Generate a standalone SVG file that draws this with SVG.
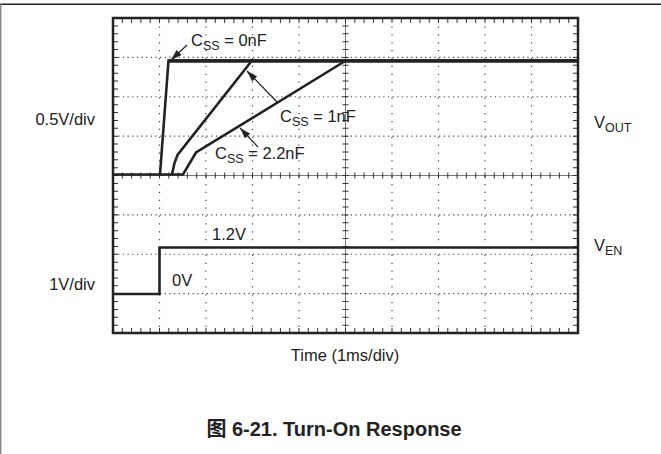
<svg xmlns="http://www.w3.org/2000/svg" width="661" height="454" viewBox="0 0 661 454">
<style>
text{font-family:"Liberation Sans",Arial,"Noto Sans CJK SC",sans-serif;fill:#222;font-size:16.5px}
.sub{font-size:12.5px}
.cap{font-weight:bold;font-size:20px}
.hdot{stroke:#444;stroke-width:1.2;stroke-dasharray:1.2 3.45;fill:none}
.vdot{stroke:#444;stroke-width:1.2;stroke-dasharray:1.2 6.675;fill:none}
.htick{stroke:#333;stroke-dasharray:1 8.3;stroke-dashoffset:0.5;fill:none}
.vtick{stroke:#333;stroke-dasharray:1 6.875;stroke-dashoffset:0.5;fill:none}
.trace{stroke:#222;stroke-width:2.6;fill:none;stroke-linejoin:miter}
.arrow{stroke:#222;stroke-width:1.2;fill:none}
</style>
<defs>
<marker id="ah" markerUnits="userSpaceOnUse" markerWidth="11" markerHeight="7" refX="11" refY="3.5" orient="auto">
<path d="M0,0 L11,3.5 L0,7 z" fill="#222"/>
</marker>
</defs>
<rect width="661" height="454" fill="#fff"/>
<g id="page">
<line x1="0" y1="4.3" x2="661" y2="4.3" stroke="#222" stroke-width="1.5"/>
<line x1="0.7" y1="4" x2="0.7" y2="454" stroke="#888" stroke-width="1.5"/>
</g>
<g id="grid">
<path class="hdot" d="M113.6,57.4H578M113.6,96.75H578M113.6,136.1H578M113.6,214.9H578M113.6,254.25H578M113.6,293.6H578"/>
<path class="vdot" d="M159.5,18.6V333M206,18.6V333M252.5,18.6V333M299,18.6V333M392,18.6V333M438.5,18.6V333M485,18.6V333M531.5,18.6V333"/>
<path d="M113,175.5H578M345.5,18V333" stroke="#555" stroke-width="0.8" fill="none"/>
<path class="htick" stroke-width="6" d="M113,175.5H578"/>
<path class="vtick" stroke-width="6" d="M345.5,18V333"/>
<path class="htick" stroke-width="5" d="M113,20.5H578M113,330.5H578"/>
<path class="vtick" stroke-width="5" d="M115.5,18V333M575.5,18V333"/>
<rect x="113" y="18" width="465" height="315" fill="none" stroke="#222" stroke-width="2.5"/>
</g>
<g id="traces">
<path class="trace" d="M113,174.5H160L168.5,60.5H578" />
<path class="trace" d="M160,174.5H172L174.5,163L177.5,155L252,60.5"/>
<path class="trace" d="M172,174.5H183L196,152.5L346,60.5"/>
<path d="M168.5,61H578" stroke="#222" stroke-width="3.5" fill="none"/>
<path class="trace" d="M113,294H159.5V247.5H578"/>
</g>
<g id="connectors">
<line class="arrow" x1="187" y1="45" x2="171" y2="60" marker-end="url(#ah)"/>
<line class="arrow" x1="277" y1="102" x2="247" y2="71" marker-end="url(#ah)"/>
<line class="arrow" x1="258" y1="147" x2="240" y2="128" marker-end="url(#ah)"/>
</g>
<g id="label-css0"><text x="191" y="46">C<tspan class="sub" dy="4">SS</tspan><tspan dy="-4"> = 0nF</tspan></text></g>
<g id="label-css1"><text x="280" y="121.5">C<tspan class="sub" dy="4">SS</tspan><tspan dy="-4"> = 1nF</tspan></text></g>
<g id="label-css22"><text x="215" y="159">C<tspan class="sub" dy="4">SS</tspan><tspan dy="-4"> = 2.2nF</tspan></text></g>
<g id="label-vout"><text x="594" y="128">V<tspan class="sub" dy="4">OUT</tspan></text></g>
<g id="label-ven"><text x="594" y="251">V<tspan class="sub" dy="4">EN</tspan></text></g>
<g id="label-12v"><text x="212" y="240">1.2V</text></g>
<g id="label-0v"><text x="172" y="286">0V</text></g>
<g id="label-scale1"><text x="95" y="125" text-anchor="end">0.5V/div</text></g>
<g id="label-scale2"><text x="95" y="290" text-anchor="end">1V/div</text></g>
<g id="label-time"><text x="345" y="361" text-anchor="middle">Time (1ms/div)</text></g>
<g id="caption"><text class="cap" x="334" y="436" text-anchor="middle">图 6-21. Turn-On Response</text></g>
</svg>
